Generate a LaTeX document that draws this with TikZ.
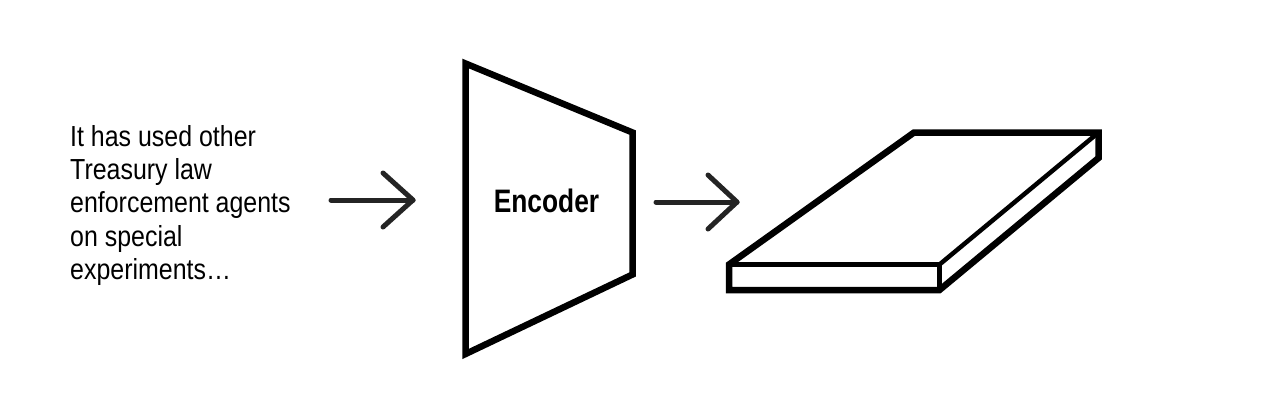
\documentclass[tikz,border=0pt]{standalone}
\usepackage{fontspec}
\setmainfont{Liberation Sans}
\newfontfamily\txtfont[FakeStretch=0.86]{Liberation Sans}
\newfontfamily\encfont[FakeStretch=0.81]{Liberation Sans Bold}
\begin{document}
\begin{tikzpicture}[x=1pt,y=-1pt,
  outline/.style={draw=black,line width=6.5pt,line join=miter},
  edge/.style={draw=black,line width=5pt},
  thinedge/.style={draw=black,line width=4.5pt},
  conn/.style={draw=black!86,line width=5pt,line cap=round,line join=round},
  lbl/.style={inner sep=0pt,text=black}]
\useasboundingbox (0,0) rectangle (1280,413);
\fill[white] (0,0) rectangle (1280,413);
% input text
\node[lbl,anchor=north west,align=left,font={\txtfont\fontsize{29}{33.3}\selectfont}] (txt) at (70,125)
  {It has used other\\Treasury law\\enforcement agents\\on special\\experiments…};
% encoder
\coordinate (e1) at (465.5,63.5);
\coordinate (e2) at (632.5,132.5);
\coordinate (e3) at (632.5,274.5);
\coordinate (e4) at (465.5,354);
\draw[outline] (e1) -- (e2) -- (e3) -- (e4) -- cycle;
\node[lbl,anchor=base,font={\encfont\fontsize{32.5}{36}\selectfont}] (enc) at (546.5,212) {Encoder};
% arrows
\coordinate (a1s) at (331,200);
\coordinate (a1e) at (413,200);
\coordinate (a2s) at (656,202);
\coordinate (a2e) at (737,202);
\draw[conn] (a1s) -- (a1e);
\draw[conn] ([shift={(-30,-27)}]a1e) -- (a1e) -- ([shift={(-30,27)}]a1e);
\draw[conn] (a2s) -- (a2e);
\draw[conn] ([shift={(-29,-27)}]a2e) -- (a2e) -- ([shift={(-29,27)}]a2e);
% slab
\coordinate (sA) at (914,132.5);
\coordinate (sB) at (1098.5,132.5);
\coordinate (sC) at (939.5,264.5);
\coordinate (sD) at (729,264.5);
\coordinate (sE) at (729,290);
\coordinate (sF) at (939.5,290);
\coordinate (sG) at (1098.5,158);
\draw[edge] (sD) -- (sC) -- (sF);
\draw[thinedge] (sC) -- (sB);
\draw[outline] (sA) -- (sB) -- (sG) -- (sF) -- (sE) -- (sD) -- cycle;
\end{tikzpicture}
\end{document}
